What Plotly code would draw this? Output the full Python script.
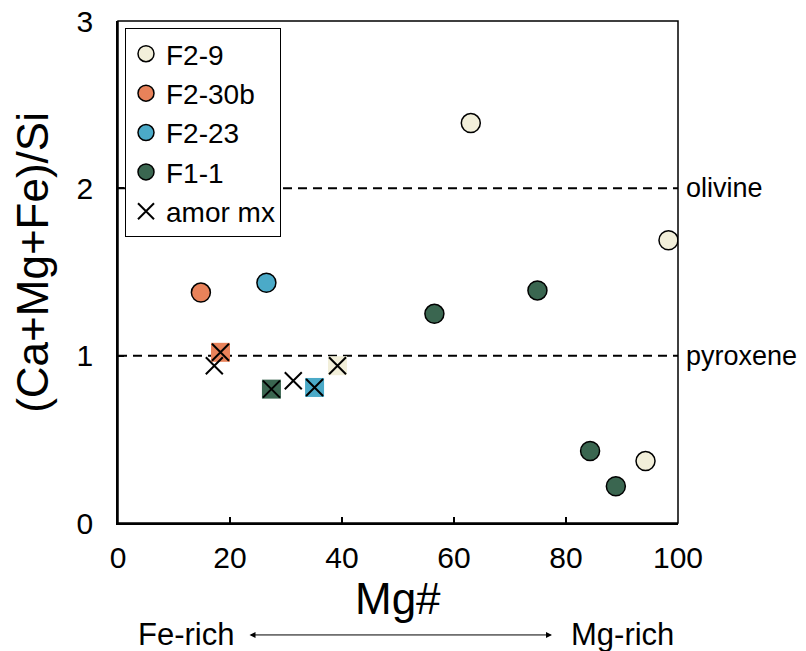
import plotly.graph_objects as go

FONT = "Liberation Sans, Arial, sans-serif"

# ---- data ----
f29_x = [63.0, 98.3, 94.2]
f29_y = [2.39, 1.69, 0.37]
f230b_x = [14.8]
f230b_y = [1.377]
f223_x = [26.5]
f223_y = [1.436]
f11_x = [56.5, 74.9, 84.3, 88.9]
f11_y = [1.25, 1.39, 0.43, 0.22]

# amorphous matrix analyses attributed to samples (square background)
sq_sample = ["F2-30b", "F1-1", "F2-23", "F2-9"]
sq_x = [18.3, 27.4, 35.1, 39.2]
sq_y = [1.02, 0.80, 0.81, 0.94]

# all amorphous matrix analyses
amor_x = [17.2, 18.3, 27.4, 31.3, 35.1, 39.2]
amor_y = [0.94, 1.02, 0.80, 0.85, 0.81, 0.94]

ref_lines = {"olivine": 2.0, "pyroxene": 1.0}
x_ticks = [0, 20, 40, 60, 80, 100]
y_ticks = [0, 1, 2, 3]

colors = {
    "F2-9": "#F2EFDA",
    "F2-30b": "#E8825A",
    "F2-23": "#4BAAC8",
    "F1-1": "#3A6650",
}

fig = go.Figure()

def circ(name, xs, ys):
    fig.add_trace(go.Scatter(
        x=xs, y=ys, mode="markers", name=name,
        marker=dict(symbol="circle", size=19, color=colors[name],
                    line=dict(color="black", width=1.5)),
    ))

circ("F2-9", f29_x, f29_y)
circ("F2-30b", f230b_x, f230b_y)
circ("F2-23", f223_x, f223_y)
circ("F1-1", f11_x, f11_y)

fig.add_trace(go.Scatter(
    x=sq_x, y=sq_y, mode="markers", showlegend=False, hoverinfo="skip",
    marker=dict(symbol="square", size=19, color=[colors[s] for s in sq_sample],
                line=dict(width=0)),
))

fig.add_trace(go.Scatter(
    x=amor_x, y=amor_y, mode="markers", name="amor mx",
    marker=dict(symbol="x-thin", size=17, color="black",
                line=dict(color="black", width=2)),
))

# reference lines
for label, yv in ref_lines.items():
    fig.add_shape(type="line", xref="x", yref="y", x0=0, x1=100, y0=yv, y1=yv,
                  line=dict(color="black", width=2, dash="9px,6px"), layer="below")
    fig.add_annotation(xref="paper", yref="y", x=1, y=yv, text=label,
                       showarrow=False, xanchor="left", yanchor="middle", xshift=6,
                       font=dict(family=FONT, size=27, color="black"))

# frame (top and right)
fig.add_shape(type="rect", xref="x domain", yref="y domain", x0=0, x1=1, y0=0, y1=1,
              line=dict(color="black", width=1.5), layer="above")

# axis titles
fig.add_annotation(xref="paper", yref="paper", x=0.5, y=-0.15, text="Mg#",
                   showarrow=False, xanchor="center", yanchor="middle",
                   font=dict(family=FONT, size=44, color="black"))
fig.add_annotation(xref="paper", yref="paper", x=-0.152, y=0.52, text="(Ca+Mg+Fe)/Si",
                   showarrow=False, textangle=-90, xanchor="center", yanchor="middle",
                   font=dict(family=FONT, size=44, color="black"))

# Fe-rich / Mg-rich arrow
fig.add_annotation(xref="paper", yref="paper", x=0.775, y=-0.223, ax=-304, ay=0,
                   axref="pixel", ayref="pixel", text="", showarrow=True,
                   arrowhead=2, startarrowhead=2, arrowside="end+start",
                   arrowsize=1.2, startarrowsize=1.2, arrowwidth=1, arrowcolor="black")
fig.add_annotation(xref="paper", yref="paper", x=0.122, y=-0.223, text="Fe-rich",
                   showarrow=False, xanchor="center", yanchor="middle",
                   font=dict(family=FONT, size=31, color="black"))
fig.add_annotation(xref="paper", yref="paper", x=0.9, y=-0.223, text="Mg-rich",
                   showarrow=False, xanchor="center", yanchor="middle",
                   font=dict(family=FONT, size=31, color="black"))

fig.update_layout(
    width=806, height=651,
    margin=dict(l=110, r=136, t=13, b=136, autoexpand=False),
    plot_bgcolor="white", paper_bgcolor="white",
    font=dict(family=FONT, color="black"),
    showlegend=True,
    legend=dict(x=0.0125, y=0.986, xanchor="left", yanchor="top",
                bgcolor="white", bordercolor="black", borderwidth=1,
                font=dict(family=FONT, size=28, color="black"),
                itemwidth=30, tracegroupgap=0),
)
fig.update_xaxes(range=[0, 100], tickvals=x_ticks, ticks="inside", ticklen=6,
                 tickwidth=1.5, tickcolor="black", showline=True, linecolor="black",
                 linewidth=1.5, showgrid=False, zeroline=False, automargin=False,
                 tickfont=dict(family=FONT, size=30, color="black"),
                 ticklabelstandoff=7, ticklabeloverflow="allow")
fig.update_yaxes(range=[0, 3], tickvals=y_ticks, ticks="inside", ticklen=6,
                 tickwidth=1.5, tickcolor="black", showline=True, linecolor="black",
                 linewidth=1.5, showgrid=False, zeroline=False, automargin=False,
                 tickfont=dict(family=FONT, size=30, color="black"),
                 ticklabelstandoff=17, ticklabeloverflow="allow")

fig.write_html("out.html")
